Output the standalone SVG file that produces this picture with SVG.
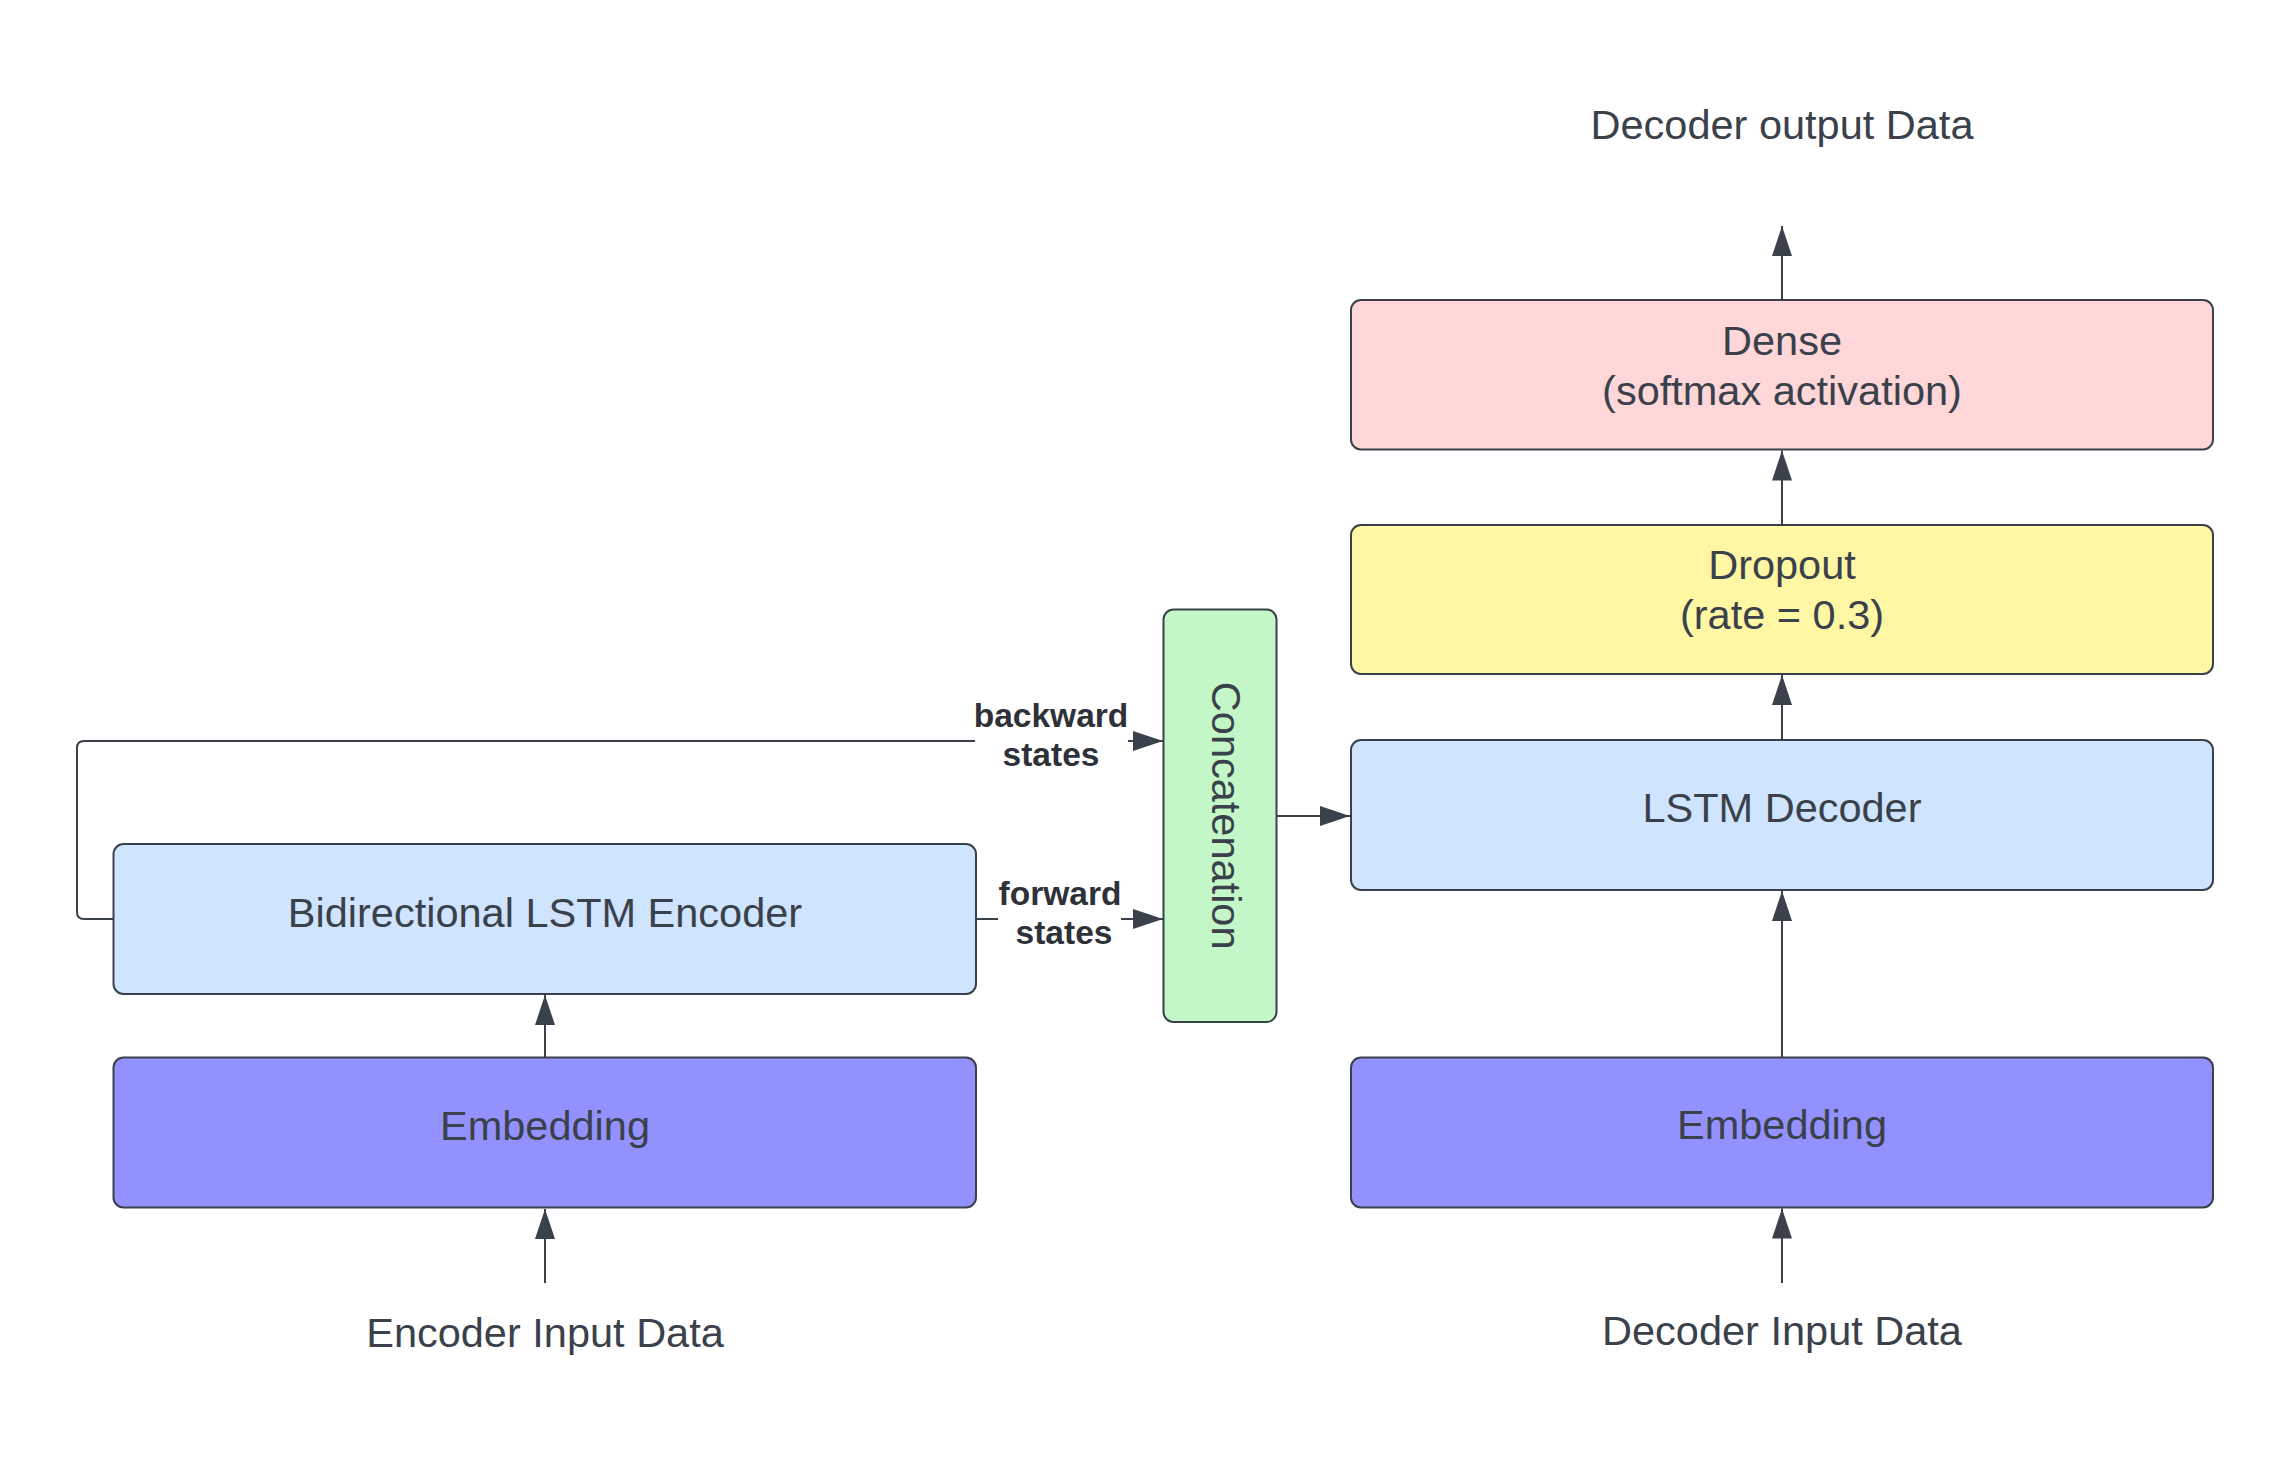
<svg xmlns="http://www.w3.org/2000/svg" width="2288" height="1470" viewBox="0 0 2288 1470">
<style>
.box{stroke:#3a414a;stroke-width:2}
.t{font-family:"Liberation Sans",Arial,sans-serif;font-size:41.5px;fill:#3a414a;text-anchor:middle}
.lb{font-family:"Liberation Sans",Arial,sans-serif;font-size:33.5px;font-weight:bold;fill:#2e3238;text-anchor:middle}
.c{fill:none;stroke:#3a414a;stroke-width:2}
.blue{fill:#cfe4ff}.purple{fill:#9391fe}.green{fill:#c3f7c8}.red{fill:#ffd7d8}.yellow{fill:#fff7a3}
</style>
<defs>
<marker id="ah" viewBox="0 0 30 20" markerWidth="30" markerHeight="20" refX="30" refY="10" orient="auto" markerUnits="userSpaceOnUse">
<path d="M0,0 L30,10 L0,20 z" fill="#3a414a"/>
</marker>
</defs>
<rect width="2288" height="1470" fill="#ffffff"/>
<g id="connectors">
<path class="c" d="M545,1283 V1209" marker-end="url(#ah)"/>
<path class="c" d="M545,1057.5 V995" marker-end="url(#ah)"/>
<path class="c" d="M113.5,919 H84 Q77,919 77,912 V748 Q77,741 84,741 H975"/>
<path class="c" d="M1128,741 H1163" marker-end="url(#ah)"/>
<path class="c" d="M976,919 H998"/>
<path class="c" d="M1121,919 H1163" marker-end="url(#ah)"/>
<path class="c" d="M1277,816 H1350" marker-end="url(#ah)"/>
<path class="c" d="M1782,1283 V1208.5" marker-end="url(#ah)"/>
<path class="c" d="M1782,1057.5 V891" marker-end="url(#ah)"/>
<path class="c" d="M1782,740 V675" marker-end="url(#ah)"/>
<path class="c" d="M1782,525 V450.5" marker-end="url(#ah)"/>
<path class="c" d="M1782,300 V226" marker-end="url(#ah)"/>
<text class="lb" x="1051" y="726.7">backward</text>
<text class="lb" x="1051" y="766">states</text>
<text class="lb" x="1060" y="905">forward</text>
<text class="lb" x="1064" y="944">states</text>
</g>
<g id="enc-embedding">
<rect class="box purple" x="113.5" y="1057.5" width="862.5" height="150" rx="10"/>
<text class="t" x="545" y="1140">Embedding</text>
</g>
<g id="enc-bilstm">
<rect class="box blue" x="113.5" y="844" width="862.5" height="150" rx="10"/>
<text class="t" x="545" y="926.5">Bidirectional LSTM Encoder</text>
</g>
<g id="concat">
<rect class="box green" x="1163.5" y="609.5" width="113" height="412.5" rx="10"/>
<text class="t" transform="translate(1220,815.7) rotate(90)" x="0" y="8">Concatenation</text>
</g>
<g id="dec-embedding">
<rect class="box purple" x="1351" y="1057.5" width="862" height="150" rx="10"/>
<text class="t" x="1782" y="1139">Embedding</text>
</g>
<g id="dec-lstm">
<rect class="box blue" x="1351" y="740" width="862" height="150" rx="10"/>
<text class="t" x="1782" y="822">LSTM Decoder</text>
</g>
<g id="dropout">
<rect class="box yellow" x="1351" y="525" width="862" height="149" rx="10"/>
<text class="t" x="1782" y="579.4">Dropout</text>
<text class="t" x="1782" y="629.2">(rate = 0.3)</text>
</g>
<g id="dense">
<rect class="box red" x="1351" y="300" width="862" height="149.5" rx="10"/>
<text class="t" x="1782" y="354.8">Dense</text>
<text class="t" x="1782" y="404.5">(softmax activation)</text>
</g>
<g id="labels">
<text class="t" x="545" y="1347">Encoder Input Data</text>
<text class="t" x="1782" y="1345">Decoder Input Data</text>
<text class="t" x="1782" y="139.3">Decoder output Data</text>
</g>
</svg>
